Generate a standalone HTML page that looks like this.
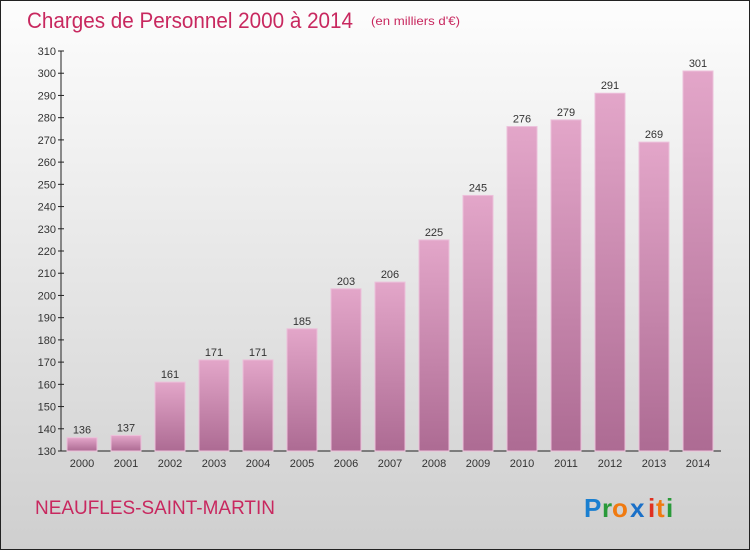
<!DOCTYPE html>
<html><head><meta charset="utf-8"><style>
body{margin:0}
#c{position:relative;width:748px;height:548px;border:1px solid #222;background:linear-gradient(#fdfdfd,#cfcfcf);font-family:"Liberation Sans",sans-serif;overflow:hidden}
</style></head><body>
<div id="c">
<svg id="s" width="748" height="548" xmlns="http://www.w3.org/2000/svg">
<defs><linearGradient id="g" x1="0" y1="0" x2="0" y2="1"><stop offset="0" stop-color="#e3a6c9"/><stop offset="1" stop-color="#ad6b93"/></linearGradient></defs>
<text x="26" y="27" font-size="22" fill="#c8285f" textLength="326" lengthAdjust="spacingAndGlyphs">Charges de Personnel 2000 à 2014</text>
<text x="370" y="24" font-size="12" fill="#c8285f" textLength="89" lengthAdjust="spacingAndGlyphs">(en milliers d'€)</text>
<text x="34" y="513" font-size="19" fill="#c8285f" textLength="240" lengthAdjust="spacingAndGlyphs">NEAUFLES-SAINT-MARTIN</text>
<g font-size="26" font-weight="bold">
<text x="583" y="516" fill="#1a7fd0">P</text><text x="601" y="516" fill="#2a9a3a">r</text><text x="611" y="516" fill="#f07a10">o</text><text x="629" y="516" fill="#1a70c8">x</text><text x="647" y="516" fill="#e03020">i</text><text x="655" y="516" fill="#f07a10">t</text><text x="665" y="516" fill="#2a9a3a">i</text>
</g>
<g id="plot"></g>
</svg>
</div>
<script>
const years=["2000","2001","2002","2003","2004","2005","2006","2007","2008","2009","2010","2011","2012","2013","2014"];
const values=[136,137,161,171,171,185,203,206,225,245,276,279,291,269,301];
const ticks=[130,140,150,160,170,180,190,200,210,220,230,240,250,260,270,280,290,300,310];
const NS="http://www.w3.org/2000/svg";
const p=document.getElementById('plot');
const y=v=>450-(v-130)*400/180;
const x=i=>81+i*44;
function mk(t,a){const e=document.createElementNS(NS,t);for(const k in a)e.setAttribute(k,a[k]);p.appendChild(e);return e;}
let ax=mk('line',{x1:60,y1:50,x2:60,y2:450,stroke:'#222'});


let bx=mk('line',{x1:60,y1:450,x2:720,y2:450,stroke:'#222'});


ticks.forEach(t=>{
 mk('line',{x1:57,y1:y(t),x2:63,y2:y(t),stroke:'#222'});
 const e=mk('text',{x:55,y:y(t)+4,'font-size':11,fill:'#333','text-anchor':'end'});e.textContent=t;
 
 
});
values.forEach((v,i)=>{
 const r=mk('rect',{x:x(i)-15,y:y(v),width:30,height:450-y(v),fill:'url(#g)',stroke:'#ecc0da','stroke-width':1});
 
 
 const l=mk('text',{x:x(i),y:y(v)-4,'font-size':11,fill:'#333','text-anchor':'middle'});l.textContent=v;
 
 
 const xl=mk('text',{x:x(i),y:466,'font-size':11,fill:'#333','text-anchor':'middle'});xl.textContent=years[i];
 
 
});
</script>
</body></html>
